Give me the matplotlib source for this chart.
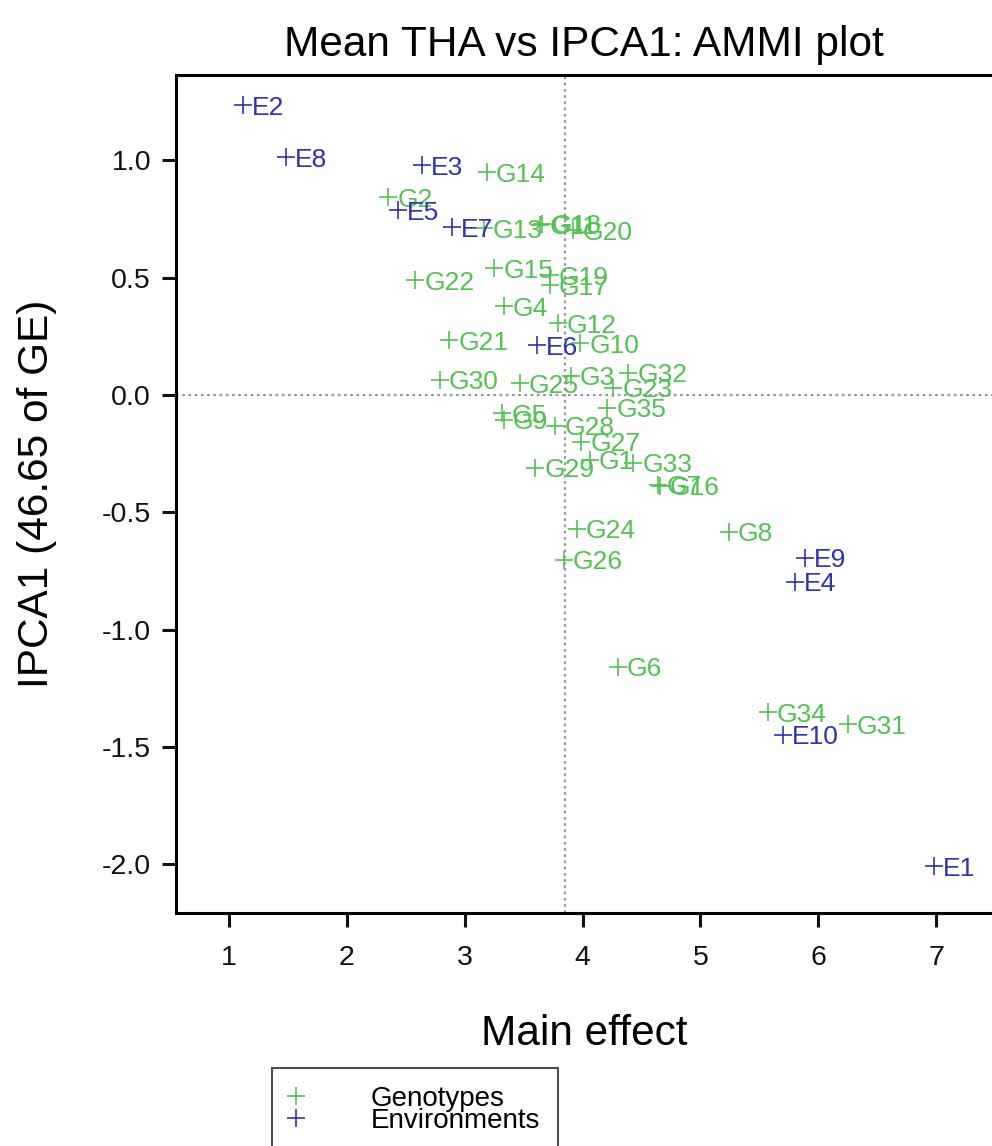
import numpy as np
import matplotlib
matplotlib.use("Agg")
import matplotlib.pyplot as plt
from matplotlib.lines import Line2D

plt.rcParams['font.family'] = ['Liberation Sans', 'DejaVu Sans']

# ---- data ----
geno_names = ["G1", "G2", "G3", "G4", "G5", "G6", "G7", "G8", "G9", "G10",
              "G11", "G12", "G13", "G14", "G15", "G16", "G17", "G18", "G19", "G20",
              "G21", "G22", "G23", "G24", "G25", "G26", "G27", "G28", "G29", "G30",
              "G31", "G32", "G33", "G34", "G35"]
geno_main = [4.06, 2.35, 3.90, 3.33, 3.32, 4.30, 4.64, 5.24, 3.33, 3.98,
             3.64, 3.79, 3.16, 3.19, 3.25, 4.66, 3.72, 3.66, 3.72, 3.92,
             2.87, 2.58, 4.26, 3.95, 3.47, 3.84, 3.99, 3.77, 3.60, 2.79,
             6.25, 4.39, 4.43, 5.57, 4.21]
geno_ipca1 = [-0.277, 0.843, 0.081, 0.379, -0.077, -1.157, -0.383, -0.583, -0.106, 0.221,
              0.725, 0.306, 0.711, 0.949, 0.540, -0.386, 0.468, 0.730, 0.511, 0.702,
              0.234, 0.489, 0.030, -0.570, 0.051, -0.702, -0.200, -0.132, -0.311, 0.064,
              -1.404, 0.094, -0.289, -1.353, -0.055]

env_names = ["E1", "E2", "E3", "E4", "E5", "E6", "E7", "E8", "E9", "E10"]
env_main = [6.98, 1.12, 2.64, 5.80, 2.43, 3.61, 2.89, 1.48, 5.89, 5.70]
env_ipca1 = [-2.009, 1.234, 0.979, -0.796, 0.787, 0.213, 0.715, 1.013, -0.694, -1.447]

x_ticks = [1, 2, 3, 4, 5, 6, 7]
y_ticks = [-2.0, -1.5, -1.0, -0.5, 0.0, 0.5, 1.0]

title = "Mean THA vs IPCA1: AMMI plot"
xlabel = "Main effect"
ylabel = "IPCA1 (46.65 of GE)"
legend_labels = ["Genotypes", "Environments"]

GREEN = "#52c252"
BLUE = "#3232b0"

# ---- figure ----
W, H = 992, 1146
fig = plt.figure(figsize=(W / 100, H / 100), dpi=100)
ax = fig.add_axes([176 / W, 1 - 913 / H, (W - 176) / W, (913 - 75) / H])

ax.set_xlim(0.55, 7.475)
ax.set_ylim(-2.2074, 1.3636)

grand_mean = np.mean(env_main)
ax.axvline(grand_mean, color="#999999", ls=(0, (1.2, 1.6)), lw=1.6, zorder=1)
ax.axhline(0.0, color="#999999", ls=(0, (1.2, 1.6)), lw=1.6, zorder=1)

LBL = 19
ax.scatter(geno_main, geno_ipca1, marker="+", s=170, color=GREEN, linewidths=1.2, zorder=2)
for n, x, y in zip(geno_names, geno_main, geno_ipca1):
    ax.annotate(n, (x, y), xytext=(6.5, 0), textcoords="offset points",
                ha="left", va="center_baseline", fontsize=LBL, color=GREEN, zorder=2)

ax.scatter(env_main, env_ipca1, marker="+", s=170, color=BLUE, linewidths=1.2, zorder=3)
for n, x, y in zip(env_names, env_main, env_ipca1):
    ax.annotate(n, (x, y), xytext=(6.5, 0), textcoords="offset points",
                ha="left", va="center_baseline", fontsize=LBL, color=BLUE, zorder=3)

ax.set_xticks(x_ticks)
ax.set_xticklabels([str(v) for v in x_ticks])
ax.set_yticks(y_ticks)
ax.set_yticklabels([f"{v:.1f}" for v in y_ticks])

for s in ["left", "bottom", "top"]:
    ax.spines[s].set_linewidth(2.2)
ax.spines["right"].set_visible(False)
ax.tick_params(axis="both", direction="out", length=10, width=2.2, labelsize=20.5, colors="#111111")
ax.tick_params(axis="x", pad=13)
ax.tick_params(axis="y", pad=8)

ax.set_title(title, fontsize=30.5, pad=14)
ax.set_xlabel(xlabel, fontsize=30.5, labelpad=31)
ax.set_ylabel(ylabel, fontsize=30.5, labelpad=32)

handles = [Line2D([], [], ls="none", marker="+", ms=13, mew=1.2, color=GREEN),
           Line2D([], [], ls="none", marker="+", ms=13, mew=1.2, color=BLUE)]
leg = fig.legend(handles, legend_labels, loc="upper left",
                 bbox_to_anchor=(272 / W, 1 - 1068 / H), fontsize=20,
                 frameon=True, fancybox=False, edgecolor="#222222",
                 handlelength=0.4, handletextpad=2.5, labelspacing=-0.15,
                 borderpad=0.65, borderaxespad=0)
leg.get_frame().set_linewidth(1.5)

fig.savefig("out.png", dpi=100)
